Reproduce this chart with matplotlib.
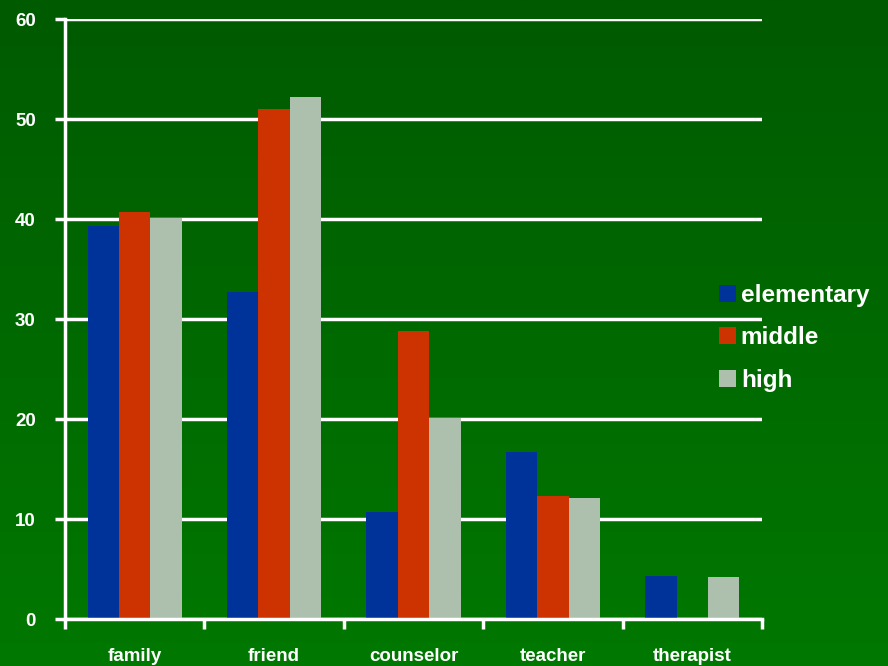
import numpy as np
import matplotlib
matplotlib.use('Agg')
import matplotlib.pyplot as plt

categories = ['family', 'friend', 'counselor', 'teacher', 'therapist']
elementary = [39.3, 32.7, 10.7, 16.7, 4.3]
middle = [40.7, 51.0, 28.8, 12.3, 0.0]
high = [40.1, 52.2, 20.1, 12.1, 4.2]
series_names = ['elementary', 'middle', 'high']
colors = ['#003399', '#cc3300', '#adc0ad']

plt.rcParams['font.family'] = ['Liberation Sans', 'DejaVu Sans']
plt.rcParams['font.weight'] = 'bold'

fig = plt.figure(figsize=(8.88, 6.66), dpi=100)

# green vertical gradient behind everything
bg = fig.add_axes([0, 0, 1, 1], zorder=0)
grad = np.linspace(0, 1, 256).reshape(-1, 1)
cmap = matplotlib.colors.LinearSegmentedColormap.from_list('g', ['#005a00', '#007800'])
bg.imshow(grad, aspect='auto', cmap=cmap, extent=[0, 1, 0, 1], origin='upper')
bg.axis('off')

ax = fig.add_axes([65 / 888, 47 / 666, 697 / 888, 600 / 666], zorder=1)
ax.patch.set_alpha(0)

x = np.arange(len(categories))
w = 0.225
for i, (vals, name) in enumerate(zip([elementary, middle, high], series_names)):
    ax.bar(x + (i - 1) * w, vals, w, color=colors[i], label=name, zorder=3)

ax.set_xlim(-0.5, len(categories) - 0.5)
ax.set_ylim(0, 60)
ax.set_yticks(range(0, 61, 10))
ax.set_xticks(x)
ax.set_xticklabels(categories)
ax.set_xticks(np.arange(-0.5, len(categories)), minor=True)
ax.tick_params(axis='x', which='major', length=0, pad=21, labelsize=13.5, colors='white')
ax.tick_params(axis='x', which='minor', length=7, width=2.5, color='white', direction='out')
ax.tick_params(axis='y', length=7, width=2.5, color='white', labelsize=13.5,
               labelcolor='white', pad=14)
ax.grid(axis='y', color='white', linewidth=2.5, zorder=1)
ax.set_axisbelow(True)
for s in ['top', 'right']:
    ax.spines[s].set_visible(False)
for s in ['left', 'bottom']:
    ax.spines[s].set_color('white')
    ax.spines[s].set_linewidth(2.5)
ax.spines['bottom'].set_zorder(4)

leg = ax.legend(loc='upper left', bbox_to_anchor=(697 / 888, 1 - 262 / 666),
                bbox_transform=fig.transFigure, frameon=False,
                handlelength=0.7, handleheight=0.7, handletextpad=0.2,
                labelspacing=0.8, fontsize=17.5, labelcolor='white')

fig.savefig('out.png', dpi=100)
